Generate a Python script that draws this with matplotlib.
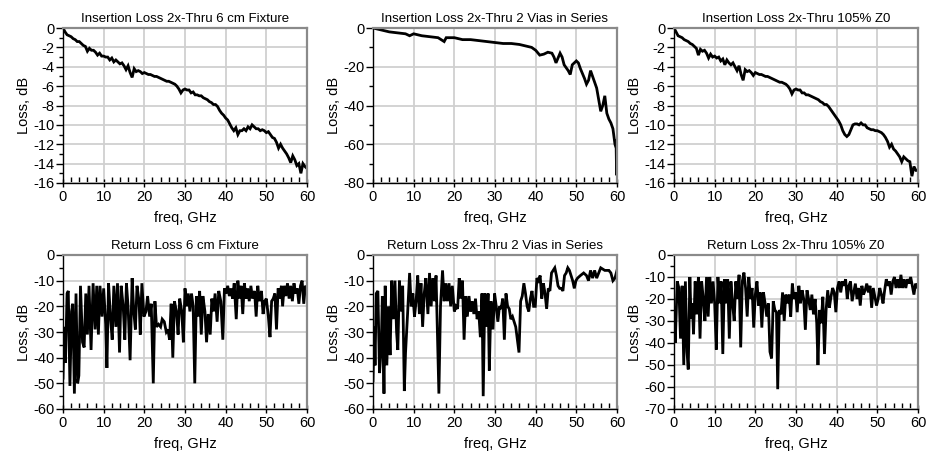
import numpy as np
import matplotlib
matplotlib.use("Agg")
import matplotlib.pyplot as plt
from matplotlib.ticker import MultipleLocator

# ============================================================
# DATA
# ============================================================

# insertion loss, 0.5 GHz steps
il_freq = [i * 0.5 for i in range(121)]

il_6cm = [
    0.0, -0.4, -0.7, -0.8, -0.9, -1.1, -1.2, -1.4, -1.4, -1.6,
    -1.8, -1.9, -2.4, -2.1, -2.3, -2.3, -2.5, -2.8, -2.6, -2.9,
    -2.9, -3.0, -3.0, -3.3, -3.1, -3.5, -3.3, -3.5, -3.7, -3.6,
    -3.9, -4.3, -3.9, -4.6, -5.1, -4.2, -4.5, -4.4, -4.5, -4.7,
    -4.6, -4.7, -4.8, -4.8, -4.9, -5.0, -5.0, -5.1, -5.2, -5.3,
    -5.4, -5.5, -5.5, -5.6, -5.7, -5.8, -6.0, -6.3, -6.7, -6.4,
    -6.3, -6.4, -6.4, -6.7, -6.6, -6.9, -6.9, -7.0, -7.0, -7.2,
    -7.3, -7.4, -7.6, -7.7, -7.9, -7.9, -8.1, -8.5, -8.8, -9.0,
    -9.3, -9.5, -9.9, -10.3, -10.6, -10.3, -11.0, -10.6, -10.6, -10.4,
    -10.6, -10.2, -10.4, -10.0, -10.2, -10.4, -10.4, -10.6, -10.5, -10.6,
    -10.8, -10.7, -11.0, -11.3, -11.4, -11.8, -12.4, -12.0, -12.4, -12.7,
    -13.0, -13.4, -13.9, -13.2, -13.6, -14.2, -14.0, -15.0, -14.0, -14.3,
    -14.5,
]

il_105 = [
    0.0, -0.4, -0.8, -0.9, -1.0, -1.2, -1.3, -1.4, -1.6, -1.7,
    -1.9, -2.1, -2.8, -2.2, -2.4, -2.3, -2.6, -3.1, -2.7, -3.0,
    -2.9, -3.1, -3.0, -3.4, -3.2, -3.8, -3.3, -3.6, -3.8, -3.6,
    -4.0, -4.4, -3.9, -4.8, -5.4, -4.3, -4.5, -4.4, -4.6, -4.9,
    -4.6, -4.7, -4.8, -4.8, -4.9, -5.0, -5.0, -5.1, -5.2, -5.3,
    -5.4, -5.5, -5.6, -5.6, -5.7, -5.8, -6.0, -6.3, -6.8, -6.4,
    -6.3, -6.4, -6.4, -6.7, -6.7, -6.9, -6.9, -7.0, -7.1, -7.2,
    -7.3, -7.4, -7.6, -7.7, -7.9, -7.9, -8.1, -8.4, -8.7, -9.0,
    -9.3, -9.6, -10.0, -10.6, -11.0, -11.2, -11.0, -10.5, -10.0, -9.9,
    -9.9, -10.0, -9.8, -10.0, -10.0, -10.3, -10.4, -10.5, -10.5, -10.6,
    -10.6, -10.7, -10.8, -11.0, -11.3, -11.7, -12.3, -12.0, -12.5, -12.7,
    -13.0, -13.3, -13.8, -13.3, -13.5, -13.7, -13.8, -15.3, -14.3, -14.7,
    -14.7,
]

il_vias_freq = [
    0, 2, 4, 6, 8, 9, 10, 12, 14, 16, 17.5, 18, 20, 22, 24, 26, 28, 30,
    32, 34, 36, 38, 39, 40, 41, 42, 43, 44, 44.5, 45, 46, 46.5, 47, 48,
    48.5, 49, 50, 50.5, 51, 52, 52.5, 53, 53.5, 54, 55, 55.5, 56, 56.5,
    57, 57.5, 58, 58.5, 59, 59.5, 59.8, 59.9, 60,
]
il_vias = [
    0, -1, -2, -2.5, -3, -4, -3, -4, -4.5, -5, -7, -5, -5, -6, -6, -6.5,
    -7, -7.5, -8, -8, -8.5, -9.5, -10, -11.5, -14, -13.5, -12.5, -13, -15,
    -18, -13, -15, -19, -22, -24, -19, -17, -18, -21, -26, -29, -27, -22,
    -25, -31, -37, -43, -40, -35, -44, -47, -49, -52, -60, -62, -76, -58,
]

# return loss
rl_6cm_freq = [
    0.0, 0.3, 0.6, 1.0, 1.3, 1.7, 2.1, 2.4, 2.8, 3.2, 3.6, 3.9, 4.3, 4.8,
    5.2, 5.6, 6.0, 6.4, 6.9, 7.4, 7.9, 8.3, 8.7, 9.1, 9.6, 10.0, 10.5,
    10.8, 11.2, 11.7, 12.1, 12.5, 13.0, 13.4, 13.9, 14.3, 14.8, 15.2,
    15.6, 16.0, 16.5, 17.0, 17.4, 17.8, 18.2, 18.7, 19.0, 19.4, 19.9,
    20.4, 20.8, 21.3, 21.7, 22.2, 22.6, 23.0, 23.5, 24.0, 24.4, 24.9,
    25.4, 25.8, 26.2, 26.6, 27.0, 27.4, 27.9, 28.3, 28.7, 29.2, 29.6,
    30.0, 30.4, 30.8, 31.2, 31.6, 32.0, 32.4, 32.8, 33.2, 33.6, 34.0,
    34.4, 34.9, 35.3, 35.7, 36.2, 36.6, 37.0, 37.4, 37.9, 38.3, 38.8,
    39.3, 39.7, 40.1, 40.5, 40.9, 41.3, 41.7, 42.1, 42.6, 43.0, 43.4,
    43.8, 44.2, 44.6, 45.0, 45.4, 45.8, 46.2, 46.6, 47.1, 47.5, 47.9,
    48.3, 48.8, 49.2, 49.6, 50.0, 50.5, 50.9, 51.3, 51.7, 52.1, 52.5,
    52.9, 53.3, 53.7, 54.0, 54.4, 54.8, 55.2, 55.6, 56.0, 56.4, 56.8,
    57.2, 57.6, 58.0, 58.4, 58.8, 59.2, 59.6, 60.0,
]
rl_6cm = [
    -48, -28, -42, -15, -14, -51, -22, -19, -54, -15, -50, -47, -12, -34,
    -36, -15, -31, -12, -37, -11, -29, -12, -31, -12, -24, -13, -27,
    -44, -11, -25, -33, -12, -28, -11, -38, -12, -20, -33,
    -11, -20, -41, -9, -22, -29, -12, -18, -31, -11, -24,
    -22, -16, -24, -19, -50, -18, -28, -27, -28, -25, -26,
    -30, -29, -33, -19, -40, -18, -22, -31, -17, -22, -34,
    -13, -20, -15, -22, -15, -20, -50, -16, -24, -14, -31,
    -16, -22, -34, -23, -31, -17, -22, -15, -26, -14, -18,
    -33, -13, -15, -12, -16, -13, -17, -11, -25, -10, -17,
    -12, -23, -11, -17, -13, -18, -12, -17, -14, -24, -12,
    -18, -14, -23, -18, -17, -24, -32, -18, -17, -15, -29,
    -13, -17, -12, -20, -12, -16, -11, -17, -12, -18, -11,
    -15, -13, -19, -12, -10, -19, -12, -13,
]

rl_vias_freq = [
    0.0, 0.3, 0.5, 0.8, 1.2, 1.6, 2.0, 2.3, 2.7, 3.0, 3.4, 3.8, 4.2, 4.6,
    5.0, 5.4, 5.8, 6.1, 6.5, 6.9, 7.3, 7.7, 8.0, 8.5, 9.0, 9.4, 9.8, 10.2,
    10.6, 11.0, 11.4, 11.8, 12.2, 12.6, 13.0, 13.5, 13.9, 14.3, 14.7,
    15.1, 15.5, 16.2, 16.6, 17.1, 17.5, 17.9, 18.3, 18.7, 19.1, 19.5,
    20.0, 20.4, 20.8, 21.2, 21.6, 22.0, 22.4, 22.8, 23.2, 23.6, 24.0,
    24.4, 24.8, 25.2, 25.6, 26.0, 26.4, 26.8, 27.1, 27.5, 27.9, 28.3,
    28.6, 29.0, 29.5, 29.9, 30.3, 30.7, 31.1, 31.5, 31.9, 32.3, 32.7,
    33.1, 33.5, 33.9, 34.3, 34.7, 35.1, 35.5, 35.9, 36.3, 36.7, 37.1,
    37.5, 37.9, 38.3, 38.7, 39.1, 39.5, 39.9, 40.3, 40.7, 41.1, 41.5,
    41.9, 42.3, 42.7, 43.1, 43.5, 43.9, 44.3, 44.7, 45.1, 45.5, 45.9,
    46.3, 46.7, 47.1, 47.5, 47.9, 48.3, 48.7, 49.1, 49.5, 49.9, 50.3,
    51.0, 51.8, 52.5, 53.0, 53.5, 54.0, 54.5, 55.0, 55.5, 56.0, 57.0,
    58.0, 58.5, 59.0, 59.5, 60.0,
]
rl_vias = [
    -49, -28, -43, -15, -14, -46, -37, -16, -54, -12, -43, -20, -39, -10,
    -25, -10, -30, -37, -10, -22, -12, -53, -38, -23, -7, -20, -15, -24,
    -18, -8, -23, -11, -28, -15, -9, -23, -7, -20, -9,
    -18, -8, -54, -20, -6, -18, -11, -18, -11, -20, -12,
    -22, -20, -21, -9, -17, -10, -33, -16, -24, -16, -22,
    -18, -23, -17, -25, -22, -32, -15, -55, -15, -28, -15,
    -45, -18, -29, -15, -20, -26, -20, -21, -17, -33, -15,
    -20, -21, -25, -24, -26, -28, -33, -38, -18, -16, -11,
    -15, -20, -22, -17, -14, -20, -20, -9, -10, -8, -17,
    -11, -15, -21, -13, -14, -7, -6, -5, -8, -12, -13,
    -13, -14, -8, -7, -5, -6, -8, -10, -13, -10, -9,
    -8, -7, -8, -10, -6, -9, -6, -9, -7, -5, -6,
    -6, -7, -10, -9, -6,
]

rl_105_freq = [
    0.0, 0.3, 0.8, 1.2, 1.6, 2.0, 2.4, 2.8, 3.2, 3.5, 3.9, 4.2, 4.5, 4.8,
    5.2, 5.6, 6.0, 6.4, 6.8, 7.2, 7.6, 8.0, 8.4, 8.8, 9.2, 9.6, 10.0,
    10.4, 10.8, 11.2, 11.6, 12.0, 12.4, 12.8, 13.2, 13.6, 14.0, 14.4,
    14.8, 15.2, 15.6, 16.0, 16.4, 16.8, 17.2, 17.6, 18.0, 18.4, 18.8,
    19.2, 19.6, 20.0, 20.4, 20.8, 21.2, 21.6, 22.0, 22.4, 22.8, 23.2,
    23.6, 24.0, 24.4, 24.8, 25.2, 25.5, 25.9, 26.3, 26.7, 27.1, 27.5,
    27.9, 28.3, 28.7, 29.1, 29.5, 29.9, 30.3, 30.7, 31.1, 31.5, 31.9,
    32.3, 32.7, 33.1, 33.5, 33.9, 34.3, 34.7, 35.1, 35.4, 35.8, 36.2,
    36.6, 37.0, 37.4, 37.8, 38.2, 38.6, 39.0, 39.4, 39.8, 40.2, 40.6,
    41.0, 41.4, 41.8, 42.2, 42.6, 43.0, 43.4, 43.8, 44.2, 44.6, 45.0,
    45.4, 45.8, 46.2, 46.6, 47.0, 47.4, 47.8, 48.2, 48.6, 49.0, 49.4,
    49.8, 50.2, 50.6, 51.0, 51.4, 51.8, 52.2, 52.6, 53.0, 53.4, 53.8,
    54.2, 54.6, 55.0, 55.4, 55.8, 56.2, 56.6, 57.0, 57.4, 57.8, 58.2,
    58.6, 59.0, 59.4, 59.8, 60.0,
]
rl_105 = [
    -24, -40, -12, -15, -38, -14, -50, -12, -44, -52, -10, -29, -22, -36,
    -12, -27, -10, -38, -12, -20, -30, -10, -28, -10, -22, -12, -22,
    -43, -10, -22, -12, -45, -11, -22, -11, -38, -12, -22,
    -30, -12, -20, -9, -42, -12, -8, -15, -28, -10, -20,
    -15, -33, -18, -12, -23, -17, -33, -17, -22, -28, -22,
    -44, -47, -21, -25, -26, -61, -25, -27, -17, -30, -18,
    -22, -18, -28, -13, -20, -17, -26, -14, -22, -16, -20,
    -34, -16, -20, -25, -18, -27, -20, -31, -50, -25, -31,
    -19, -45, -25, -16, -24, -19, -15, -17, -26, -15, -12,
    -17, -12, -14, -11, -20, -14, -12, -21, -17, -13, -20,
    -15, -23, -14, -18, -16, -13, -17, -14, -24, -15, -19,
    -23, -20, -15, -18, -22, -16, -11, -14, -12, -18, -12,
    -10, -15, -11, -15, -9, -15, -11, -15, -11, -13, -10,
    -14, -18, -13, -15, -14,
]

titles = [
    "Insertion Loss 2x-Thru 6 cm Fixture",
    "Insertion Loss 2x-Thru 2 Vias in Series",
    "Insertion Loss 2x-Thru 105% Z0",
    "Return Loss 6 cm Fixture",
    "Return Loss 2x-Thru 2 Vias in Series",
    "Return Loss 2x-Thru 105% Z0",
]

# ============================================================
# PLOT
# ============================================================

plt.rcParams["font.family"] = ["Liberation Sans", "DejaVu Sans"]

fig = plt.figure(figsize=(9.37, 4.54), dpi=100)

W, H = 937.0, 454.0
lefts = [63, 373, 674]
width = 244
tops = [28, 255]
heights = [155, 154]

panels = [
    (il_freq, il_6cm, -16, 2, 1),
    (il_vias_freq, il_vias, -80, 20, 10),
    (il_freq, il_105, -16, 2, 1),
    (rl_6cm_freq, rl_6cm, -60, 10, 5),
    (rl_vias_freq, rl_vias, -60, 10, 5),
    (rl_105_freq, rl_105, -70, 10, 5),
]

for idx, (x, y, ymin, ystep, yminor) in enumerate(panels):
    row, col = divmod(idx, 3)
    ax = fig.add_axes([
        lefts[col] / W,
        1 - (tops[row] + heights[row]) / H,
        width / W,
        heights[row] / H,
    ])

    ax.plot(x, y, color="black", lw=2.0, solid_joinstyle="miter")

    ax.set_xlim(0, 60)
    ax.set_ylim(ymin, 0)
    ax.xaxis.set_major_locator(MultipleLocator(10))
    ax.xaxis.set_minor_locator(MultipleLocator(2))
    ax.yaxis.set_major_locator(MultipleLocator(ystep))
    ax.yaxis.set_minor_locator(MultipleLocator(yminor))
    ax.set_yticklabels([f"{int(v)}" for v in ax.get_yticks()])

    ax.grid(True, which="major", color="#d0d0d0", lw=1.3)
    ax.set_axisbelow(True)

    ax.tick_params(axis="x", which="major", direction="inout", length=6,
                   width=1, labelsize=10.5, pad=2)
    ax.tick_params(axis="x", which="minor", direction="in", length=4, width=1)
    ax.tick_params(axis="y", which="major", direction="out", length=5, width=1,
                   labelsize=10.5, pad=1)
    ax.tick_params(axis="y", which="minor", direction="out", length=3, width=1)

    for side in ["left", "bottom"]:
        ax.spines[side].set_color("black")
        ax.spines[side].set_linewidth(1.0)
    for side in ["top", "right"]:
        ax.spines[side].set_color("#8a8a8a")
        ax.spines[side].set_linewidth(1.6)

    ax.set_title(titles[idx], fontsize=9.5, pad=4)
    ax.set_xlabel("freq, GHz", fontsize=10.5, labelpad=5)
    ax.set_ylabel("Loss, dB", fontsize=10.5, labelpad=2)

fig.savefig("out.png", dpi=100)
